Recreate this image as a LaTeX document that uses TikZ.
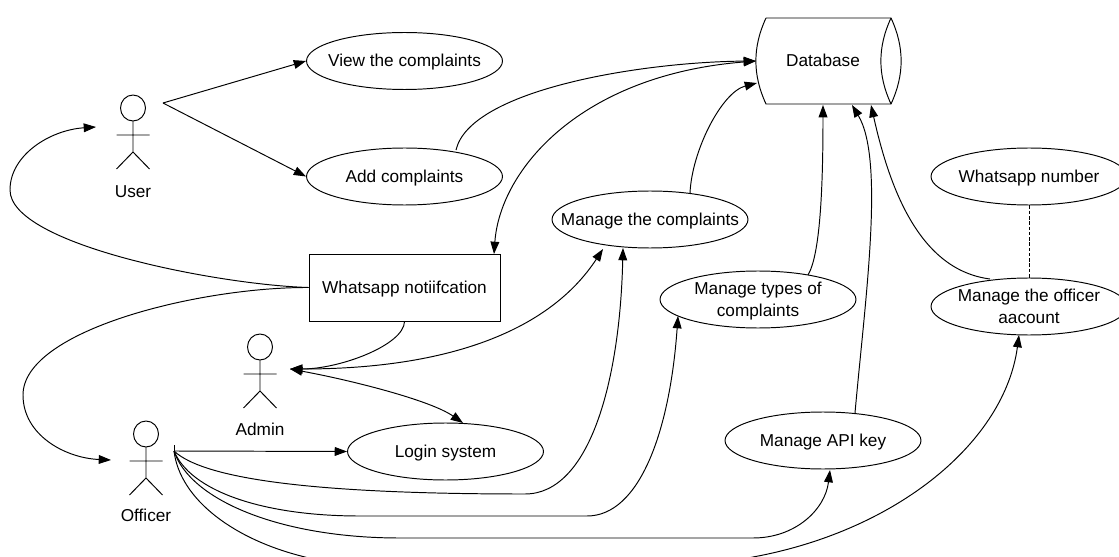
\documentclass[tikz,border=0pt]{standalone}
\usepackage{fontspec}
\setmainfont{Liberation Sans}
\usetikzlibrary{arrows.meta,shapes.geometric}
\tikzset{
  x=0.02cm,y=-0.02cm,
  every path/.style={line width=0.55pt},
  usecase/.style={draw,ellipse,minimum width=3.92cm,minimum height=1.14cm,inner xsep=-0.6cm,inner ysep=-0.4cm,align=center,font=\fontsize{9.8pt}{12.4pt}\selectfont},
  actorlabel/.style={inner sep=0pt,font=\fontsize{9.8pt}{12.4pt}\selectfont},
  conn/.style={-{Triangle[length=7pt,width=5pt]}},
  bothconn/.style={{Triangle[length=7pt,width=5pt]}-{Triangle[length=7pt,width=5pt]}},
}
\newcommand{\tl}[1]{\raisebox{-3.4pt}[0pt][0pt]{#1}}
\newcommand{\stickman}[2]{%
  \draw (#1,#2) ellipse [x radius=12.5,y radius=13];
  \draw (#1,#2+13) -- (#1,#2+44) (#1-16.5,#2+27) -- (#1+16.5,#2+27)
        (#1-16.5,#2+61) -- (#1,#2+44) -- (#1+16.5,#2+61);
}
\begin{document}
\begin{tikzpicture}
\useasboundingbox (0,0) rectangle (1119,557);
\stickman{133}{108}
\stickman{260}{347}
\stickman{146}{434}
\node[actorlabel] (userlab) at (133,191.5) {\tl{User}};
\node[actorlabel] (adminlab) at (260,429.5) {\tl{Admin}};
\node[actorlabel] (officerlab) at (146,515.5) {\tl{Officer}};
\coordinate (uR) at (163,103);
\coordinate (uL) at (96,127);
\coordinate (aR) at (290,369);
\coordinate (oR) at (174,451);
\coordinate (oL) at (111,460);
\draw (174,445) -- (oR);

\node[usecase] (view) at (404.5,61) {\tl{View the complaints}};
\node[usecase] (add) at (404.5,176.5) {\tl{Add complaints}};
\node[usecase] (login) at (445.5,451.5) {\tl{Login system}};
\node[usecase] (mc) at (650,219.5) {\tl{Manage the complaints}};
\node[usecase] (mt) at (758,299.5) {\tl{Manage types of}\\\tl{complaints}};
\node[usecase] (wn) at (1029,176.5) {\tl{Whatsapp number}};
\node[usecase] (ma) at (1029,306.5) {\tl{Manage the officer}\\\tl{aacount}};
\node[usecase] (api) at (823,440.5) {\tl{Manage API key}};
\node[draw,minimum width=3.82cm,minimum height=1.34cm,inner sep=0pt,font=\fontsize{9.8pt}{12.4pt}\selectfont] (box) at (404.5,287.5) {\tl{Whatsapp notiifcation}};

\node[inner sep=0pt,font=\fontsize{9.8pt}{12.4pt}\selectfont] (db) at (823,61) {\tl{Database}};
\coordinate (dbW) at (756,61);
\coordinate (dbSW) at (757,83);
\coordinate (dbS) at (823,105);
\coordinate (dbS2) at (852,105);
\coordinate (dbS3) at (871,105);
\draw (766,18) -- (891,18) .. controls (904.5,47) and (904.5,75) .. (891,104) -- (766,104)
      .. controls (752.5,75) and (752.5,47) .. (766,18);
\draw (891,18) .. controls (877.5,47) and (877.5,75) .. (891,104);

\draw[conn] (uR) -- (view.west);
\draw[conn] (uR) -- (add.west);
\draw[conn] (456,150) .. controls (470,90) and (640,62) .. (dbW);
\draw[bothconn] (494,254) .. controls (500,170) and (580,75) .. (dbW);
\draw[conn] (690,193) .. controls (692,150) and (722,92) .. (dbSW);
\draw[conn] (808,275) .. controls (820,255) and (823,190) .. (dbS);
\draw[conn] (855,413) .. controls (865,300) and (885,160) .. (dbS2);
\draw[conn] (990,279) .. controls (920,270) and (890,190) .. (dbS3);
\draw[dash pattern=on 2pt off 1pt] (wn.south) -- (ma.north);
\draw[conn] (box.west) .. controls (220,285) and (10,245) .. (10,190) .. controls (10,155) and (50,130) .. (uL);
\draw[conn] (box.west) .. controls (200,287) and (23,330) .. (23,395) .. controls (23,435) and (65,458) .. (oL);
\draw[conn] (box.south) .. controls (404,345) and (340,369) .. (aR);
\draw[bothconn] (603,249) .. controls (550,330) and (450,369) .. (aR);
\draw[bothconn] (aR) .. controls (350,380) and (430,400) .. (463,423);
\draw[conn] (oR) -- (login.west);
\draw[conn] (oR) .. controls (205,480) and (320,494) .. (525,494) .. controls (590,494) and (620,380) .. (623,248);
\draw[conn] (oR) .. controls (190,490) and (260,516) .. (360,516) -- (587,516) .. controls (640,516) and (670,430) .. (678,316);
\draw[conn] (oR) .. controls (190,500) and (280,538) .. (400,538) -- (753,538) .. controls (795,538) and (825,510) .. (830,470);
\draw[conn] (oR) .. controls (180,500) and (235,540) .. (305,557) .. controls (400,590) and (650,580) .. (753,557) .. controls (900,530) and (1005,440) .. (1019,335);
\end{tikzpicture}
\end{document}
